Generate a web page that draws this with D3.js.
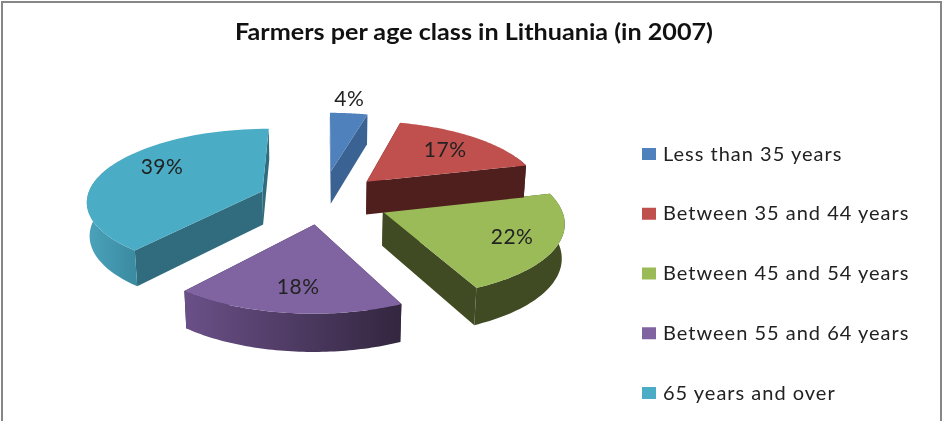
<!DOCTYPE html>
<html><head><meta charset="utf-8">
<script src="https://cdn.jsdelivr.net/npm/d3@7/dist/d3.min.js"></script>
<style>html,body{margin:0;padding:0;background:#fff}svg{display:block;filter:blur(0.45px)}</style>
</head><body><svg id="c" width="944" height="421"></svg>
<script>
const title = "Farmers per age class in Lithuania (in 2007)";
const categories = ["Less than 35 years","Between 35 and 44 years","Between 45 and 54 years","Between 55 and 64 years","65 years and over"];
const values = [4,17,22,18,39];
const topColors = ["#4f81bd","#c0504d","#9bbb59","#8064a2","#4bacc6"];
const cutColors = ["#3a6394","#4f1f1e","#404b23","#33263f","#306c7e"];
const arcFrom  = ["#3a6394","#4f1f1e","#404b23","#6a5088","#4ba3bb"];
const arcTo    = ["#3a6394","#4f1f1e","#404b23","#33263f","#3a8aa0"];
const explode = [0.42,0.37,0.375,0.33,0.365];
const labelR = [1.27,0.71,0.75,0.73,0.72];
const labelAng = [-0.02,0.0,0.0,-0.02,0.19];
const drawOrder = [4,0,2,1,3];

const W=944,H=421, cx=322, cy=200, RX=176, RY=72, DROP=34, P=0.12, Q=0.012;
const svg=d3.select("#c");
const defs=svg.append("defs");
svg.append("rect").attr("x",2).attr("y",2).attr("width",939).attr("height",430)
  .attr("fill","#fff").attr("stroke","#868686").attr("stroke-width",2);
svg.append("text").attr("x",474).attr("y",40).attr("text-anchor","middle")
  .attr("font-family","Lato").attr("font-weight",700).attr("font-size",22)
  .attr("textLength",478).attr("lengthAdjust","spacingAndGlyphs").attr("fill","#111").text(title);

const pie=d3.pie().sort(null).startAngle(0).endAngle(2*Math.PI);
const slices=pie(values);
const proj=(s,i,th,r,z)=>{
  const mid=(s.startAngle+s.endAngle)/2;
  const u=r*Math.sin(th)+explode[i]*Math.sin(mid);
  const v=r*Math.cos(th)+explode[i]*Math.cos(mid);
  const w=1+P*v+Q*z;
  return [cx+RX*u/w, cy+(-RY*v+DROP*z)/w];
};
const line=d3.line();
const g=svg.append("g");
drawOrder.forEach(i=>{
  const s=slices[i], a=s.startAngle, b=s.endAngle;
  const angles=d3.range(0,61).map(k=>a+(b-a)*k/60);
  [a,b].forEach(t=>{
    g.append("path").attr("fill",cutColors[i]).attr("d",line([
      proj(s,i,t,0,0),proj(s,i,t,1,0),proj(s,i,t,1,1),proj(s,i,t,0,1)])+"Z");
  });
  const front=angles.filter(t=>Math.cos(t)<0.4);
  if(front.length>1){
    const pts=front.map(t=>proj(s,i,t,1,0)).concat(front.slice().reverse().map(t=>proj(s,i,t,1,1)));
    const gid="wall"+i, xs=pts.map(p=>p[0]);
    const lg=defs.append("linearGradient").attr("id",gid).attr("gradientUnits","userSpaceOnUse")
      .attr("x1",d3.min(xs)).attr("x2",d3.max(xs)).attr("y1",0).attr("y2",0);
    lg.append("stop").attr("offset",0).attr("stop-color",arcFrom[i]);
    lg.append("stop").attr("offset",1).attr("stop-color",arcTo[i]);
    g.append("path").attr("fill",`url(#${gid})`).attr("d",line(pts)+"Z");
  }
  const top=[proj(s,i,a,0,0)].concat(angles.map(t=>proj(s,i,t,1,0)));
  g.append("path").attr("fill",topColors[i]).attr("d",line(top)+"Z");
});
slices.forEach((s,i)=>{
  const mid=(s.startAngle+s.endAngle)/2+labelAng[i];
  const p=proj(s,i,mid,labelR[i],0);
  svg.append("text").attr("x",p[0]).attr("y",p[1]+7).attr("text-anchor","middle")
    .attr("font-family","Lato").attr("font-size",21).attr("letter-spacing",0.5).attr("fill","#222").text(d3.format(".0f")(s.value)+"%");
});
const ly=d3.scalePoint().domain(categories).range([154,393]);
const leg=svg.append("g").selectAll("g").data(categories).join("g").attr("transform",d=>`translate(0,${ly(d)})`);
leg.append("rect").attr("x",642).attr("y",-6).attr("width",14).attr("height",12).attr("fill",(d,i)=>topColors[i]);
leg.append("text").attr("x",663).attr("y",6.5).attr("font-family","Lato").attr("font-size",20)
  .attr("fill","#222").attr("letter-spacing",1).text(d=>d);
</script></body></html>
